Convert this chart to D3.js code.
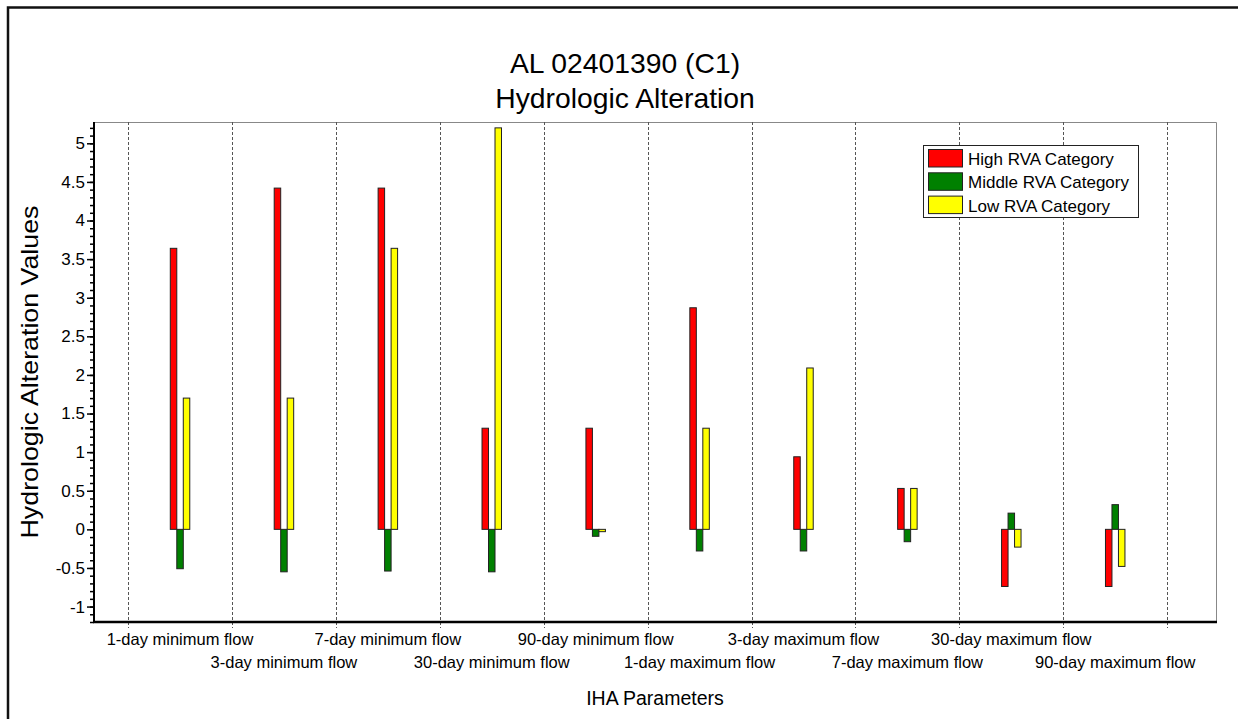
<!DOCTYPE html>
<html><head><meta charset="utf-8">
<script src="https://cdn.jsdelivr.net/npm/d3@7"></script>
<style>body{margin:0;background:#fff}svg{display:block;font-family:"Liberation Sans",Arial,sans-serif}</style>
</head><body><svg id="c" width="1238" height="719"></svg>
<script>
const categories = ["1-day minimum flow","3-day minimum flow","7-day minimum flow","30-day minimum flow","90-day minimum flow","1-day maximum flow","3-day maximum flow","7-day maximum flow","30-day maximum flow","90-day maximum flow"];
const highRVA   = [3.64, 4.42, 4.42, 1.31, 1.31, 2.87, 0.94, 0.53, -0.74, -0.74];
const middleRVA = [-0.51, -0.55, -0.54, -0.55, -0.09, -0.28, -0.28, -0.16, 0.21, 0.32];
const lowRVA    = [1.70, 1.70, 3.64, 5.20, -0.03, 1.31, 2.09, 0.53, -0.23, -0.48];
const seriesNames = ["High RVA Category","Middle RVA Category","Low RVA Category"];
const seriesColors = ["#ff0000","#008000","#ffff00"];
const yMajorTicks = [-1,-0.5,0,0.5,1,1.5,2,2.5,3,3.5,4,4.5,5];
const yMinorTicks = d3.range(-12, 53).map(v => v/10);
const titleLines = ["AL 02401390 (C1)","Hydrologic Alteration"];
const xTitle = "IHA Parameters";
const yTitle = "Hydrologic Alteration Values";

const series = [highRVA, middleRVA, lowRVA];
const svg = d3.select("#c");
const L = 94, R = 1216, T = 122, B = 622;
const x = d3.scaleLinear().domain([-0.828, 9.97]).range([L, R]);
const y = d3.scaleLinear().domain([-1.2, 5.276]).range([B, T]);
const barW = 0.0625;

// outer frame
svg.append("path").attr("d", `M8,719 V7.5 H1238`).attr("fill","none").attr("stroke","#111").attr("stroke-width",2.5);

// titles
svg.selectAll("text.title").data(titleLines).join("text")
  .attr("x", 625).attr("y", (d,i) => 73 + i*35)
  .attr("text-anchor","middle").attr("font-size", 28.3).attr("fill","#000").text(d => d);

// plot border (top/right thin grey)
svg.append("path").attr("d", `M${L},${T+0.5} H${R+0.5} V${B}`).attr("fill","none").attr("stroke","#888").attr("stroke-width",1);

// dashed separators
const seps = d3.range(0, categories.length + 1).map(k => k - 0.5);
svg.selectAll("line.sep").data(seps).join("line")
  .attr("x1", d => Math.round(x(d))+0.5).attr("x2", d => Math.round(x(d))+0.5)
  .attr("y1", T).attr("y2", B + 6)
  .attr("stroke","#555").attr("stroke-width",1).attr("stroke-dasharray","3,2");

// bars
series.forEach((vals, k) => {
  svg.append("g").selectAll("rect").data(vals).join("rect")
    .attr("x", (d,i) => x(i + (k-1)*barW - barW/2))
    .attr("width", x(barW) - x(0))
    .attr("y", d => y(Math.max(0,d)))
    .attr("height", d => Math.abs(y(d) - y(0)))
    .attr("fill", seriesColors[k]).attr("stroke","#222").attr("stroke-width",1);
});

// y axis
const minorAxis = d3.axisLeft(y).tickValues(yMinorTicks).tickSize(4).tickFormat("");
const gMinor = svg.append("g").attr("transform",`translate(${L},0)`).call(minorAxis);
gMinor.select(".domain").remove();
gMinor.selectAll("line").attr("stroke","#000").attr("stroke-width",1.5);
const majorAxis = d3.axisLeft(y).tickValues(yMajorTicks).tickSize(7).tickPadding(2)
  .tickFormat(d => String(+d.toFixed(1)));
const gMajor = svg.append("g").attr("transform",`translate(${L},0)`).call(majorAxis);
gMajor.select(".domain").remove();
gMajor.selectAll("line").attr("stroke","#000").attr("stroke-width",1.5);
gMajor.selectAll("text").attr("font-size",17).attr("font-family","Liberation Sans, Arial, sans-serif").attr("fill","#000");

// axis lines
svg.append("line").attr("x1",L).attr("x2",L).attr("y1",T).attr("y2",B+1).attr("stroke","#000").attr("stroke-width",2);
svg.append("line").attr("x1",L-1).attr("x2",R+1).attr("y1",B).attr("y2",B).attr("stroke","#000").attr("stroke-width",2.5);

// category labels
svg.selectAll("text.cat").data(categories).join("text")
  .attr("x", (d,i) => x(i)).attr("y", (d,i) => i % 2 === 0 ? 645 : 668)
  .attr("text-anchor","middle").attr("font-size",16.5).attr("fill","#000").text(d => d);

// axis titles
svg.append("text").attr("x", (L+R)/2).attr("y", 705).attr("text-anchor","middle")
  .attr("font-size",19.5).attr("fill","#000").text(xTitle);
svg.append("text").attr("transform", `translate(38,${(T+B)/2}) rotate(-90)`)
  .attr("text-anchor","middle").attr("font-size",24).attr("textLength",333).attr("lengthAdjust","spacingAndGlyphs")
  .attr("fill","#000").text(yTitle);

// legend
const lg = svg.append("g");
lg.append("rect").attr("x",923.5).attr("y",145.5).attr("width",215).attr("height",72)
  .attr("fill","#fff").attr("stroke","#222").attr("stroke-width",1);
seriesNames.forEach((name, k) => {
  lg.append("rect").attr("x",928.5).attr("y",149.5 + k*23.3).attr("width",34).attr("height",17.5)
    .attr("fill",seriesColors[k]).attr("stroke","#222").attr("stroke-width",1);
  lg.append("text").attr("x",968).attr("y",165 + k*23.3).attr("font-size",17).attr("fill","#000").text(name);
});
</script></body></html>
